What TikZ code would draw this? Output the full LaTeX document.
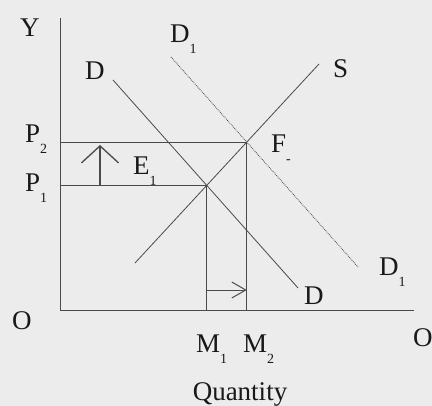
\documentclass[tikz,border=0pt]{standalone}
\usepackage{fontspec}
\setmainfont{Liberation Serif}
\usetikzlibrary{arrows.meta,intersections}
\definecolor{paper}{HTML}{ECECEC}
\definecolor{ink}{HTML}{4A4A4A}
\newcommand{\lowsub}[1]{\raisebox{-0.4em}{\fontsize{14}{14}\selectfont #1}}

\begin{document}
\begin{tikzpicture}[x=1pt, y=1pt,
  axis/.style={ink, line width=0.7pt},
  curve/.style={ink, line width=0.8pt},
  guide/.style={ink, line width=0.6pt},
  lbl/.style={anchor=base west, inner sep=0pt, font=\fontsize{27}{30}\selectfont, text=black!90},
  shiftup/.style={ink, line width=1.3pt, -{Straight Barb[length=17pt, width=37pt, line width=1.3pt]}},
  shiftright/.style={ink, line width=0.8pt, -{Straight Barb[length=14pt, width=16pt, line width=1pt]}}
]
  \fill[paper] (0,0) rectangle (432,406);
  \useasboundingbox (0,0) rectangle (432,406);

  % axes
  \coordinate (O) at (60,96);
  \coordinate (ytop) at (60,388);
  \coordinate (xend) at (414,96);
  \draw[axis] (ytop) -- (O) -- (xend);

  % demand, shifted demand, supply
  \coordinate (dA) at (113,326);
  \coordinate (dB) at (298,118);
  \coordinate (dshA) at (171,349);
  \coordinate (dshB) at (358,139);
  \coordinate (sA) at (135,143);
  \coordinate (sB) at (319,342);
  \draw[curve, name path=dem] (dA) -- (dB);
  \draw[curve, densely dotted, name path=demsh] (dshA) -- (dshB);
  \draw[curve, name path=sup] (sA) -- (sB);
  \path[name intersections={of=dem and sup, by=E}];
  \path[name intersections={of=demsh and sup, by=F}];

  % price and quantity guides
  \draw[guide] (O |- E) -- (E) -- (O -| E);
  \draw[guide] (O |- F) -- (F) -- (O -| F);

  % shift arrows
  \coordinate (pcol) at (100,0);
  \coordinate (ptip) at (100,261);
  \coordinate (qrow) at (0,116);
  \draw[shiftup] (pcol |- E) -- (ptip);
  \draw[shiftright] (E |- qrow) -- (F |- qrow);

  % labels
  \node[lbl] (lY) at (20,369) {Y};
  \node[lbl] (lO) at (12,76) {O};
  \node[lbl] (lP2) at (25,263) {P\lowsub{2}};
  \node[lbl] (lP1) at (25,214) {P\lowsub{1}};
  \node[lbl] (lE) at (133,231) {E\lowsub{1}};
  \node[lbl] (lF) at (271,253) {F\lowsub{-}};
  \node[lbl] (lS) at (333,328) {S};
  \node[lbl] (lDtop) at (85,326) {D};
  \node[lbl] (lDshtop) at (170,363) {D\lowsub{1}};
  \node[lbl] (lDbot) at (304,101) {D};
  \node[lbl] (lDshbot) at (379,130) {D\lowsub{1}};
  \node[lbl] (lM1) at (196,53) {M\lowsub{1}};
  \node[lbl] (lM2) at (243,53) {M\lowsub{2}};
  \node[lbl, anchor=base] (lQ) at (240,5) {Quantity};
  \node[lbl] (lOx) at (413,59) {O};
\end{tikzpicture}
\end{document}
